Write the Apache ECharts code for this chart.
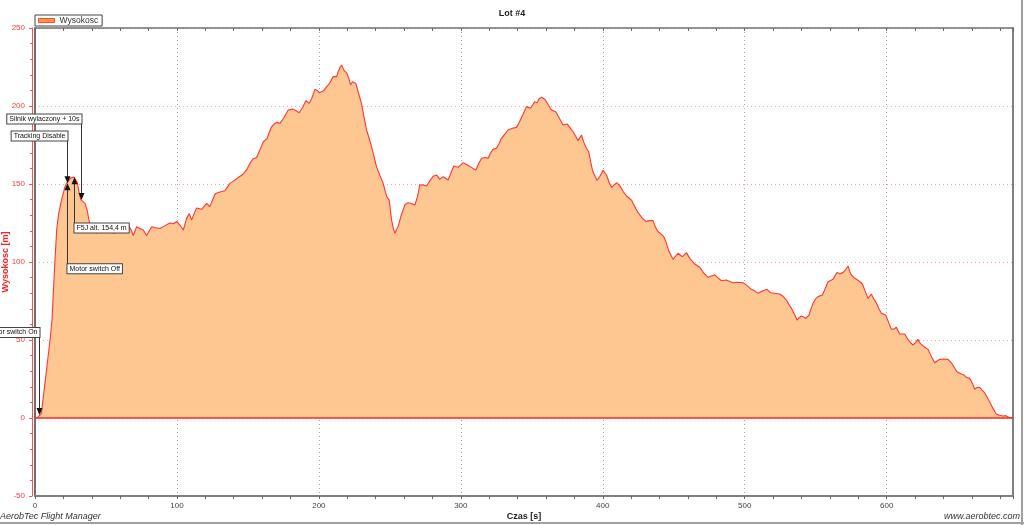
<!DOCTYPE html>
<html><head><meta charset="utf-8">
<script src="https://cdn.jsdelivr.net/npm/echarts@6/dist/echarts.min.js"></script>
<style>html,body{margin:0;padding:0;background:#fff}#c{width:1024px;height:525px}</style>
</head><body><div id="c"></div>
<script>
// ---- data ----
const seriesName = 'Wysokosc';
const times = [0,2,3,4.5,5.6,8,10.6,12,12.9,14,15.3,16.5,17.6,19,19.9,21,22.3,23.5,25.1,27.5,28.5,29.8,31,32.2,33.5,35.2,36.8,38,38.7,40.5,43.4,45.8,48,50.5,53,56.3,59.9,63,65.7,67.5,69.2,71.6,74,76.3,78.6,80.5,82.2,85,88,91,95,97.5,99.8,102,104.5,106.8,108.7,110.3,111.5,113.8,115,117.4,120.9,123.2,126.8,129,131,133.8,135.5,137.3,140,143,146.7,149,151.4,153.5,156.1,158.5,160.8,163.6,165,166.7,169,170.5,172.5,175,178.4,181.9,184,186.1,188.5,190.8,193.2,195,197.2,198.8,200.5,201.9,203.5,205.4,207.5,210,212.5,213.6,215,216,217.6,219.5,221,222.3,223.7,226,228,230,232,233.6,235.5,237.1,239,240.6,243,245.3,247.7,249.5,251.2,252.3,253.5,255.9,258,260.6,262.9,265,267.6,269.5,271.1,273,275.8,278.2,280.5,282.9,285.2,287.5,289.5,291,293,295,298.1,301.6,304,306.3,308.5,310.6,312.5,314.6,317,319.2,321,322.7,325.1,327,328.6,331,333.3,336.4,339.2,341.5,344,346.2,349,350.5,352.1,353.7,355,356.8,359.2,361.5,363.8,366.9,369.5,372,374.9,377,379.1,381,382.6,385,386.5,388.5,390.1,391.5,392.7,394.5,396,398,400.2,402.6,404.5,406.1,408,410,412.5,414.5,416.7,418.5,420.2,422.5,424.9,427.5,430.3,433,435.4,437,439,441,443,444.5,446.5,449.5,451,453,456.1,458.9,461.5,464.8,468.3,471,474.2,476.5,478.9,481,483.6,487.1,489.5,491.8,495,498.8,501.5,504.7,507,509.4,512.9,515.7,518.1,521,524.6,527,529.4,531,532.9,535,536.9,538.5,540,543,545.3,546.5,548.1,550,551.6,554.7,556.5,558.7,562.2,563.5,565,567,569.2,571,572.8,574,575.1,577,578.7,581,582.9,585,586.9,589.2,590.5,592.7,594.5,596.3,599.3,601.5,603.3,605,606.8,609.2,612.7,614.5,616.2,618.5,620.5,622,623.5,625.6,629.1,631.5,633.8,635.5,637.3,640,643.2,645.6,647.5,649.5,652.6,654.5,656.1,658.5,660.5,662,663.5,665.5,667,669,672.5,675,677.2,679.5,681.9,684,686,688.7];
const altitudes = [0,0.5,1.5,3,11.5,30,50,63,80,100,121,130,135,141,144,148,150.5,152,153.8,154.4,153.5,151,145,140,139,137.6,133,127,123.7,120,118.4,122,120,120.5,119,118.4,121.5,122,123.7,121,117,122.6,121.5,120.5,117,120,122.6,122,121.5,123,125,124.5,126,123.7,120.5,128,131,127,126,134.6,135.5,133.8,137.6,135.5,143.6,144.5,145,145.7,148,150.4,152,154,156.4,159,163.2,166,167,172,177,179.3,183,186.7,188.9,189.5,188.9,192,197.4,198,197,195.7,199,203.4,201.7,205,210.7,210,208.5,208,210,212.3,214.5,218.8,218.8,222,225,226.3,223,221.3,218,213.5,215.6,214.5,208,201.7,192,184.6,179,174,167,161,155.5,150.4,142,139.7,127,122,118.4,123,130,136.8,138,137.5,136.5,142,149.4,149.5,148.7,152,155,155.8,153,154.7,153.5,152.6,157,161.5,160.7,163.7,162.5,161.3,160,159,163,166.5,167,166.5,170,172.2,172.9,176,179.3,182,184.6,185.7,186.3,190,195,199.6,198.5,200.5,202.8,202,204.5,205.6,204.3,201,197.4,196.3,192,187.8,188.5,186,183.5,180.5,177.8,181.4,177,172.9,170.7,164,159,155,152.2,155,158.8,155.8,151,147.9,149.5,150.8,148.3,145,142.3,141,139.7,135.5,131.6,128.5,126,126.5,126.5,122.5,119.4,118,116.2,113,107,101.7,103.5,105.6,103.4,106,102,98.7,96.6,93,90.2,91,91.7,90,88,88.5,87.5,86.7,87,86.7,85,82.5,81.5,79.9,81.6,82.5,80.3,80,79.5,78,75.6,73,70.3,66.5,62.8,64.5,65.4,63.9,66,69.5,73.5,76.5,77.8,78.8,82.5,87.4,88.9,91,93.2,92.5,93.2,95,97.4,94,91.7,90,88.9,87.5,85.9,81,76.7,79.5,77,73.9,70,67.1,66,61,56.9,57,58.2,53.8,53.8,51,48.9,46.8,48.5,50.4,48,46.2,44,39.5,35.4,36.5,37.6,37.8,37.6,35.4,32.5,29.7,28.2,27.5,26.1,25.4,22,18.4,19.5,19.7,18,16.2,10.4,6,2.6,1.8,1.3,1.5,0.5,0.2];
const annTimes = [3.0, 22.3, 22.3, 27.5, 32.2];
const annAlts = [1.9, 150.5, 150.5, 154.4, 139.7];
const annTexts = ['Motor switch On', 'Motor switch Off', 'Tracking Disable', 'F5J alt. 154,4 m', 'Silnik wylaczony + 10s'];

// ---- layout (pixel placement of annotation boxes) ----
const annLayout = [
  {y: 332.5, side: 'right'},
  {y: 268.7, side: 'left'},
  {y: 136, side: 'right'},
  {y: 228, side: 'left'},
  {y: 119, side: 'right'}
];

const FONT = 'Liberation Sans';
const XMAX = 689;
const chart = echarts.init(document.getElementById('c'), null, {renderer: 'canvas'});

const option = {
  animation: false,
  backgroundColor: '#fff',
  title: {
    text: 'Lot #4', left: 'center', top: 9, padding: 0,
    textStyle: {fontSize: 9, fontWeight: 'bold', color: '#222', fontFamily: FONT}
  },
  legend: {
    left: 35, top: 15, orient: 'horizontal',
    padding: [1, 4, 1, 3],
    borderColor: '#444', borderWidth: 1,
    itemWidth: 16, itemHeight: 4, itemGap: 5,
    textStyle: {fontSize: 8.5, color: '#333', fontFamily: FONT},
    data: [{name: seriesName, icon: 'rect', itemStyle: {color: '#fd9a48', borderColor: '#ff4a2a', borderWidth: 1}}]
  },
  grid: {left: 35, right: 11, top: 28, bottom: 29, containLabel: false, outerBoundsMode: 'none'},
  xAxis: [
    {
      type: 'value', position: 'bottom', min: 0, max: XMAX, interval: 100,
      name: 'Czas [s]', nameLocation: 'middle', nameGap: 16, nameMoveOverlap: false,
      nameTextStyle: {fontSize: 9, fontWeight: 'bold', color: '#222', fontFamily: FONT},
      axisLine: {show: true, onZero: false, lineStyle: {color: '#808080', width: 2}},
      axisTick: {show: false},
      axisLabel: {fontSize: 8, color: '#444', margin: 6, fontFamily: FONT, showMaxLabel: false},
      splitLine: {show: true, lineStyle: {color: '#a8a8a8', type: [1, 3], width: 1}}
    },
    {
      type: 'value', position: 'bottom', min: 0, max: XMAX, interval: 20,
      axisLine: {show: false, onZero: false},
      axisTick: {show: true, inside: false, length: 3, lineStyle: {color: '#666'}},
      axisLabel: {show: false}, splitLine: {show: false}
    },
    {
      type: 'value', position: 'top', min: 0, max: XMAX, interval: 20,
      axisLine: {show: true, onZero: false, lineStyle: {color: '#707070', width: 1.5}},
      axisTick: {show: true, inside: true, length: 3, lineStyle: {color: '#666'}},
      axisLabel: {show: false}, splitLine: {show: false}
    }
  ],
  yAxis: [
    {
      type: 'value', position: 'left', offset: 3, min: -50, max: 250, interval: 50,
      name: 'Wysokosc [m]', nameLocation: 'middle', nameGap: 22, nameRotate: 90, nameMoveOverlap: false,
      nameTextStyle: {fontSize: 9, fontWeight: 'bold', color: '#ff2020', fontFamily: FONT},
      axisLine: {show: true, onZero: false, lineStyle: {color: '#ff5050', width: 1}},
      axisTick: {show: true, inside: false, length: 3, lineStyle: {color: '#ff5050'}},
      minorTick: {show: true, splitNumber: 5, length: 2, lineStyle: {color: '#ff5050'}},
      axisLabel: {fontSize: 8, color: '#ff4040', margin: 7, fontFamily: FONT},
      splitLine: {show: true, lineStyle: {color: '#ffa0a0', type: [1, 3], width: 1}}
    },
    {
      type: 'value', position: 'left', offset: 0, min: -50, max: 250, interval: 50,
      axisLine: {show: true, onZero: false, lineStyle: {color: '#707070', width: 2}},
      axisTick: {show: false}, axisLabel: {show: false}, splitLine: {show: false}
    },
    {
      type: 'value', position: 'right', min: -50, max: 250, interval: 50,
      axisLine: {show: true, onZero: false, lineStyle: {color: '#808080', width: 2}},
      axisTick: {show: false}, axisLabel: {show: false}, splitLine: {show: false}
    }
  ],
  series: [
    {
      name: seriesName, type: 'line', xAxisIndex: 0, yAxisIndex: 0,
      data: times.map((t, i) => [t, altitudes[i]]),
      showSymbol: false, symbol: 'none', smooth: false,
      lineStyle: {color: '#ff3535', width: 1.1},
      itemStyle: {color: '#ff3535'},
      areaStyle: {color: '#fec690', opacity: 1},
      markLine: {
        silent: true, symbol: 'none', label: {show: false},
        lineStyle: {color: '#ff2a2a', width: 1.5, type: 'solid'},
        data: [{yAxis: 0}]
      },
      z: 3
    },
    {
      name: 'annotations', type: 'custom', xAxisIndex: 0, yAxisIndex: 0,
      coordinateSystem: 'cartesian2d', clip: false, silent: true, z: 10,
      data: annTimes.map((t, i) => [t, annAlts[i]]),
      encode: {x: 0, y: 1},
      renderItem: function (params, api) {
        const i = params.dataIndex;
        const p = api.coord([api.value(0), api.value(1)]);
        const L = annLayout[i];
        const dir = L.y < p[1] ? -1 : 1;
        const x = Math.round(p[0]) + 0.5;
        return {
          type: 'group',
          children: [
            {type: 'line', shape: {x1: x, y1: L.y, x2: x, y2: p[1] + dir * 6},
              style: {stroke: '#333', lineWidth: 1}},
            {type: 'polygon', shape: {points: [[x, p[1]], [x - 3, p[1] + dir * 7], [x + 3, p[1] + dir * 7]]},
              style: {fill: '#111'}},
            {type: 'text', x: x, y: L.y,
              style: {text: annTexts[i], align: L.side, verticalAlign: 'middle',
                fontSize: 7, fontFamily: FONT, fill: '#111',
                backgroundColor: '#fff', borderColor: '#444', borderWidth: 1, padding: [1, 2, 1, 2]}}
          ]
        };
      }
    }
  ],
  graphic: [
    {type: 'rect', left: 1021, top: 0, shape: {width: 2, height: 525}, style: {fill: '#a0a0a0'}, silent: true},
    {type: 'rect', left: 0, top: 522, shape: {width: 1024, height: 2}, style: {fill: '#a0a0a0'}, silent: true},
    {type: 'text', left: 0, top: 512, style: {text: 'AerobTec Flight Manager', fontSize: 9, fontStyle: 'italic', fontFamily: FONT, fill: '#333'}, silent: true},
    {type: 'text', right: 4, top: 512, style: {text: 'www.aerobtec.com', fontSize: 9, fontStyle: 'italic', fontFamily: FONT, fill: '#333'}, silent: true}
  ]
};
chart.setOption(option);
</script>
</body></html>
